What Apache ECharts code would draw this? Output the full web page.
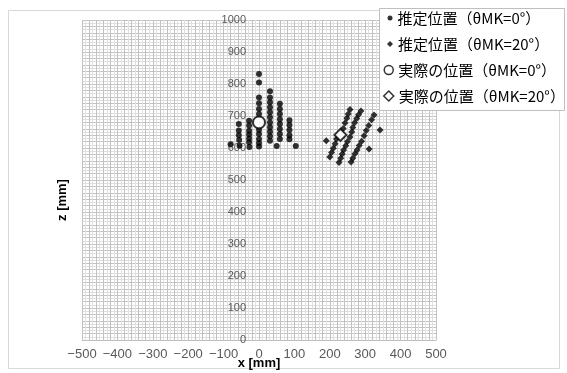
<!DOCTYPE html>
<html><head><meta charset="utf-8">
<script src="https://cdn.jsdelivr.net/npm/echarts@6/dist/echarts.min.js"></script>
<style>html,body{margin:0;padding:0;background:#fff}#c{width:567px;height:373px}</style>
</head><body><div id="c"></div>
<script>
const xTickLabels = [-500,-400,-300,-200,-100,0,100,200,300,400,500];
const yTickLabels = [0,100,200,300,400,500,600,700,800,900,1000];
const seriesNames = ['推定位置（θMK=0°）','推定位置（θMK=20°）','実際の位置（θMK=0°）','実際の位置（θMK=20°）'];
const estimated0 = [
  [-80,612],
  [-57,675],[-57,655],[-57,640],[-56,625],[-55,607],
  [-28,685],[-28,670],[-28,654],[-28,642],[-28,630],[-28,618],[-27,603],
  [0,831],[0,805],[0,758],[0,740],[0,722],[0,706],[0,657],[0,644],[0,628],[0,616],[0,605],
  [31,777],[31,758],[31,743],[31,727],[31,712],[31,696],[31,680],[31,665],[31,651],[31,637],[31,623],
  [59,738],[59,722],[59,706],[59,690],[59,675],[59,659],[59,644],[59,628],
  [86,687],[86,672],[86,656],[86,640],[86,627],
  [50,606],[104,606]
];
const estimated20 = [
  [257,720],[252,706],[248,693],[243,678],[238,661],[219,628],[215,613],[210,599],[205,586],[200,572],
  [288,716],[281,704],[276,692],[270,679],[265,664],[262,650],[257,634],[250,620],[245,607],[239,594],[235,581],[231,568],[226,555],
  [325,703],[318,688],[310,670],[303,655],[297,638],[290,621],[283,608],[277,594],[271,582],[265,568],[260,556],
  [190,623],[342,656],[311,597]
];
const actual0 = [[0,680]];
const actual20 = [[230,641]];

const GRID = {left:82, right:131, top:20, bottom:33};
const plotW = 567 - GRID.left - GRID.right;
const zeroX = GRID.left + plotW / 2;

const chart = echarts.init(document.getElementById('c'), null, {renderer:'canvas'});
const legendFont = {fontSize:15, color:'#000', fontFamily:'Noto Sans CJK JP', lineHeight:18};
function mkLegend(name, icon, w, left, top, style){
  return {show:true, orient:'vertical', left:left, top:top, padding:0, itemGap:0,
    itemWidth:w, itemHeight:w, z:6, selectedMode:false, textStyle:legendFont,
    data:[{name:name, icon:icon, itemStyle:style}]};
}
chart.setOption({
  animation:false,
  grid:{left:GRID.left, right:GRID.right, top:GRID.top, bottom:GRID.bottom, containLabel:false, outerBoundsMode:'none'},
  xAxis:{type:'value', min:-500, max:500, interval:20,
    axisLine:{show:true, onZero:false, lineStyle:{color:'#bfbfbf'}},
    axisTick:{show:false},
    axisLabel:{color:'#595959', fontSize:13, fontFamily:'Liberation Sans', margin:8,
      formatter:v=> xTickLabels.includes(v) ? String(v).replace('-','−') : ''},
    splitLine:{show:true, lineStyle:{color:'#c2c2c2', width:1}},
    minorTick:{show:false, splitNumber:2},
    minorSplitLine:{show:true, lineStyle:{color:'#e0e0e0', width:1}},
    name:'x [mm]', nameLocation:'middle', nameGap:17, nameMoveOverlap:false,
    nameTextStyle:{fontWeight:'bold', fontSize:13, color:'#000', fontFamily:'Liberation Sans'}
  },
  yAxis:{type:'value', min:0, max:1000, interval:20,
    axisLine:{show:false, onZero:false},
    axisTick:{show:false},
    axisLabel:{color:'#595959', fontSize:11, fontFamily:'Liberation Sans', margin:GRID.left - (zeroX - 13),
      formatter:v=> yTickLabels.includes(v) ? String(v) : ''},
    splitLine:{show:true, lineStyle:{color:'#c2c2c2', width:1}},
    minorTick:{show:false, splitNumber:2},
    minorSplitLine:{show:true, lineStyle:{color:'#e0e0e0', width:1}}
  },
  legend:[
    mkLegend(seriesNames[0],'circle',5,387.5,9,{color:'#000'}),
    mkLegend(seriesNames[1],'diamond',6,387,35,{color:'#000'}),
    mkLegend(seriesNames[2],'circle',9,383.5,61,{color:'#fff', borderColor:'#000', borderWidth:1.5}),
    mkLegend(seriesNames[3],'diamond',10,383,87,{color:'#fff', borderColor:'#000', borderWidth:1.5})
  ],
  graphic:[
    {type:'rect', silent:true, z:-10, shape:{x:8.5,y:10.5,width:551,height:358}, style:{fill:'none', stroke:'#d9d9d9', lineWidth:1}},
    {type:'rect', silent:true, z:5, shape:{x:379.5,y:8.5,width:185,height:102}, style:{fill:'#fff', stroke:'#bfbfbf', lineWidth:1}},
    {type:'text', silent:true, z:5, x:62, y:200, rotation:Math.PI/2,
      style:{text:'z [mm]', font:'bold 13px Liberation Sans', fill:'#000', textAlign:'center', textVerticalAlign:'middle'}}
  ],
  series:[
    {name:seriesNames[0], type:'scatter', data:estimated0, symbol:'circle', symbolSize:6, itemStyle:{color:'#000'}},
    {name:seriesNames[1], type:'scatter', data:estimated20, symbol:'diamond', symbolSize:7, itemStyle:{color:'#000'}},
    {name:seriesNames[2], type:'scatter', data:actual0, symbol:'circle', symbolSize:12, z:3, itemStyle:{color:'#fff', borderColor:'#000', borderWidth:2}},
    {name:seriesNames[3], type:'scatter', data:actual20, symbol:'diamond', symbolSize:12, z:3, itemStyle:{color:'#fff', borderColor:'#000', borderWidth:2}}
  ]
});
</script></body></html>
